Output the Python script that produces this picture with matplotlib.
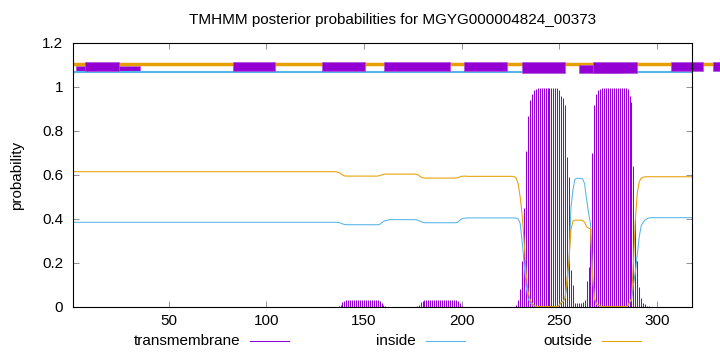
import numpy as np
import matplotlib
matplotlib.use("Agg")
import matplotlib.pyplot as plt
from matplotlib.lines import Line2D
from matplotlib.patches import Rectangle

plt.rcParams['font.family'] = ['Liberation Sans', 'DejaVu Sans']

title = "TMHMM posterior probabilities for MGYG000004824_00373"
seq_len = 318

# posterior probabilities per residue (1..318)
transmembrane = ([0.0] * 135
                 + [0.001, 0.004, 0.011, 0.022, 0.029, 0.031]
                 + [0.031] * 16
                 + [0.028, 0.018, 0.008, 0.003, 0.002]
                 + [0.002] * 14
                 + [0.004, 0.010, 0.021, 0.028, 0.031, 0.031]
                 + [0.031] * 15
                 + [0.027, 0.016, 0.006, 0.002, 0.001]
                 + [0.001] * 24
                 + [0.002, 0.01, 0.03, 0.08, 0.21, 0.45, 0.71, 0.87, 0.94, 0.97, 0.985, 0.992]
                 + [0.996] * 11
                 + [0.985, 0.96, 0.95, 0.92, 0.68, 0.59, 0.17, 0.10, 0.02, 0.017, 0.018,
                    0.02, 0.025, 0.03, 0.12, 0.18, 0.33, 0.70, 0.92, 0.97, 0.985, 0.992]
                 + [0.996] * 13
                 + [0.99, 0.96, 0.93, 0.64, 0.40, 0.21, 0.09, 0.04, 0.02, 0.012, 0.006, 0.003]
                 + [0.002] * 22)

outside = ([0.615] * 135
           + [0.614, 0.612, 0.607, 0.600, 0.596, 0.595]
           + [0.595] * 16
           + [0.597, 0.600, 0.603, 0.604, 0.604]
           + [0.604] * 14
           + [0.603, 0.599, 0.592, 0.588, 0.586, 0.586]
           + [0.586] * 15
           + [0.588, 0.591, 0.594, 0.595, 0.595]
           + [0.594] * 24
           + [0.592, 0.585, 0.56, 0.50, 0.42, 0.30, 0.16, 0.07, 0.035, 0.018, 0.008, 0.004]
           + [0.002] * 11
           + [0.008, 0.02, 0.025, 0.04, 0.13, 0.21, 0.35, 0.39, 0.395, 0.395, 0.395,
              0.395, 0.393, 0.385, 0.365, 0.358, 0.355, 0.15, 0.04, 0.015, 0.008, 0.004]
           + [0.002] * 13
           + [0.005, 0.02, 0.04, 0.20, 0.40, 0.52, 0.57, 0.585, 0.59, 0.592, 0.592, 0.592]
           + [0.592] * 22)

inside = ([0.385] * 135
          + [0.385, 0.384, 0.382, 0.378, 0.375, 0.374]
          + [0.374] * 16
          + [0.375, 0.382, 0.389, 0.393, 0.394]
          + [0.397] * 14
          + [0.396, 0.393, 0.389, 0.385, 0.383, 0.383]
          + [0.383] * 15
          + [0.385, 0.393, 0.400, 0.403, 0.404]
          + [0.405] * 24
          + [0.405, 0.404, 0.40, 0.38, 0.30, 0.20, 0.10, 0.04, 0.02, 0.01, 0.006, 0.004]
          + [0.002] * 11
          + [0.007, 0.02, 0.025, 0.04, 0.10, 0.20, 0.45, 0.53, 0.58, 0.585, 0.585,
             0.585, 0.582, 0.56, 0.49, 0.43, 0.38, 0.15, 0.04, 0.012, 0.007, 0.004]
          + [0.002] * 13
          + [0.005, 0.02, 0.03, 0.10, 0.16, 0.24, 0.32, 0.37, 0.385, 0.395, 0.402, 0.405]
          + [0.406] * 22)

# topology annotation strip above the curves (residue ranges)
inside_spans = [(1, 231), (290, 318)]
outside_spans = [(1, 335)]
tm_boxes = [(2.4, 35.1), (7, 24.4), (82.7, 104.7), (128.7, 150.7), (160.5, 194.2),
            (201.4, 223.4), (231, 253), (260.2, 282.2), (267.4, 289.9),
            (307.3, 323.6), (328.7, 345)]

c_tm = '#9400D3'
c_in = '#56B4E9'
c_out = '#E69F00'
fs = 11

fig = plt.figure(figsize=(7.2, 3.52), dpi=100)
ax = fig.add_axes([73 / 720, 1 - 307 / 352, (692 - 73) / 720, (307 - 43) / 352])

pos = np.arange(1, seq_len + 1)
ax.vlines(pos, 0, transmembrane, color=c_tm, lw=0.75, zorder=2)
ax.plot(pos, inside, color=c_in, lw=0.75, zorder=3)
ax.plot(pos, outside, color=c_out, lw=0.75, zorder=3)

# annotation strip
for a, b in outside_spans:
    ax.plot([a, b], [1.105, 1.105], color=c_out, lw=2.5, solid_capstyle='butt',
            clip_on=False, zorder=4)
for a, b in inside_spans:
    ax.plot([a, b], [1.066, 1.066], color=c_in, lw=1.5, solid_capstyle='butt',
            clip_on=False, zorder=4)
for i, (a, b) in enumerate(tm_boxes):
    lo, hi = 1.072, 1.112
    if i == 0:
        hi = 1.097
    if i in (6, 7, 8):
        lo = 1.062
    if i == 7:
        hi = 1.10
    ax.add_patch(Rectangle((a, lo), b - a, hi - lo, facecolor=c_tm, edgecolor='#b050e0',
                           lw=0.5, clip_on=False, zorder=5 if i != 0 else 3.5))

ax.set_xlim(1, seq_len)
ax.set_ylim(0, 1.2)
ax.set_xticks([50, 100, 150, 200, 250, 300])
ax.set_yticks([0, 0.2, 0.4, 0.6, 0.8, 1.0, 1.2])
ax.set_yticklabels(['0', '0.2', '0.4', '0.6', '0.8', '1', '1.2'])
ax.tick_params(direction='in', top=True, right=True, length=4, width=0.5,
               color='#666666', labelsize=fs)
ax.tick_params(axis='x', pad=5)
ax.tick_params(axis='y', pad=7)
for s in ax.spines.values():
    s.set_linewidth(0.8)
    s.set_zorder(6)

fig.text(17 / 720, 1 - 175 / 352, 'probability', rotation=90, ha='center', va='center',
         fontsize=fs)
fig.text(393 / 720, 1 - 20 / 352, title, ha='center', va='center', fontsize=fs)

# key below the plot
key = [('transmembrane', c_tm, 240, 250, 289),
       ('inside', c_in, 416, 426, 465),
       ('outside', c_out, 592, 602, 641)]
for label, col, tx, x0, x1 in key:
    fig.text(tx / 720, 1 - 341 / 352, label, ha='right', va='center', fontsize=fs)
    fig.add_artist(Line2D([x0 / 720, x1 / 720], [1 - 341 / 352] * 2, color=col, lw=0.75,
                          transform=fig.transFigure))

fig.savefig('out.png', dpi=100)
